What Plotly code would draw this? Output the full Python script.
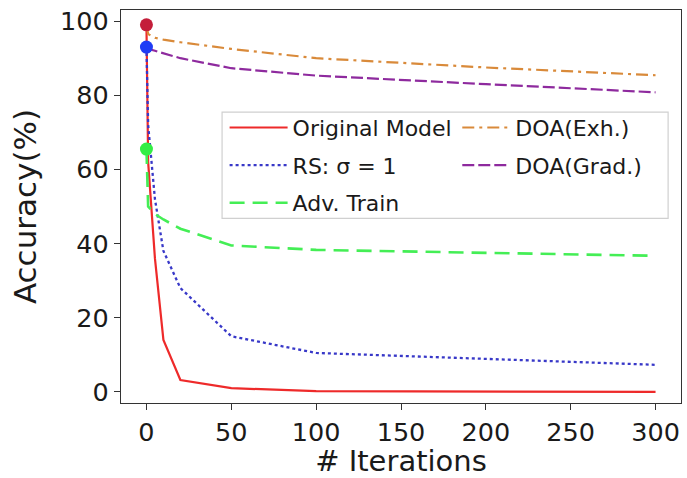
import plotly.graph_objects as go

iters = [0, 1, 5, 10, 20, 50, 100, 200, 300]
original = [99, 62, 36, 14, 3.2, 1.0, 0.2, 0.0, 0.0]
rs = [93, 72, 52, 38, 28, 15, 10.5, 9.0, 7.3]
adv = [65.5, 50, 48, 46.5, 44, 39.5, 38.3, 37.5, 36.7]
doa_exh = [99, 96.5, 95.5, 95, 94.3, 92.5, 90, 87.5, 85.4]
doa_grad = [93, 92.5, 92, 91.3, 90, 87.3, 85.3, 83, 80.8]

xticks = [0, 50, 100, 150, 200, 250, 300]
yticks = [0, 20, 40, 60, 80, 100]

FONT = "DejaVu Sans"
fig = go.Figure()

fig.add_trace(go.Scatter(x=iters, y=original, mode="lines", name="Original Model",
                         line=dict(color="#ee2a2a", width=2.2), legend="legend", legendgroup="a"))
fig.add_trace(go.Scatter(x=iters, y=rs, mode="lines", name="RS: \u03c3 = 1",
                         line=dict(color="#3838c8", width=2.3, dash="dot"), legend="legend", legendgroup="b"))
fig.add_trace(go.Scatter(x=iters, y=adv, mode="lines", name="Adv. Train",
                         line=dict(color="#44ee55", width=2.6, dash="15px,8px"), legend="legend", legendgroup="c"))
fig.add_trace(go.Scatter(x=iters, y=doa_exh, mode="lines", name="DOA(Exh.)",
                         line=dict(color="#d98a3a", width=2.2, dash="12px,5px,3px,5px"), legend="legend2", legendgroup="d"))
fig.add_trace(go.Scatter(x=iters, y=doa_grad, mode="lines", name="DOA(Grad.)",
                         line=dict(color="#8e2a9e", width=2.2, dash="12px,4px"), legend="legend2", legendgroup="e"))

# starting-point markers
fig.add_trace(go.Scatter(x=[iters[0]], y=[original[0]], mode="markers", showlegend=False,
                         marker=dict(color="#c41e3a", size=13)))
fig.add_trace(go.Scatter(x=[iters[0]], y=[rs[0]], mode="markers", showlegend=False,
                         marker=dict(color="#1f3cf5", size=13)))
fig.add_trace(go.Scatter(x=[iters[0]], y=[adv[0]], mode="markers", showlegend=False,
                         marker=dict(color="#33ee44", size=13)))

axis_common = dict(showgrid=False, zeroline=False, showline=True, mirror=True,
                   linecolor="#333333", linewidth=1.3, ticks="outside", ticklen=6,
                   tickcolor="#333333", tickwidth=1.2, automargin=False,
                   tickfont=dict(family=FONT, size=25.5, color="#1a1a1a"))

fig.update_layout(
    width=687, height=478,
    margin=dict(l=121, r=6, t=10, b=75),
    paper_bgcolor="white", plot_bgcolor="white",
    font=dict(family=FONT, color="#1a1a1a"),
    xaxis=dict(range=[-15, 315], tickvals=xticks,
               title=dict(text="# Iterations", font=dict(family=FONT, size=29), standoff=6),
               **axis_common),
    yaxis=dict(range=[-3, 103], tickvals=yticks,
               title=dict(text="Accuracy(%)", font=dict(family=FONT, size=31), standoff=14),
               **axis_common),
    legend=dict(x=0.185, y=0.754, xanchor="left", yanchor="top",
                bgcolor="rgba(0,0,0,0)", borderwidth=0,
                font=dict(family=FONT, size=22, color="#1a1a1a"),
                tracegroupgap=6, itemwidth=58),
    legend2=dict(x=0.6005, y=0.754, xanchor="left", yanchor="top",
                 bgcolor="rgba(0,0,0,0)", borderwidth=0,
                 font=dict(family=FONT, size=22, color="#1a1a1a"),
                 tracegroupgap=6, itemwidth=48),
    shapes=[dict(type="rect", xref="paper", yref="paper",
                 x0=0.1805, x1=0.977, y0=0.470, y1=0.740,
                 line=dict(color="#d0d0d0", width=1.2),
                 fillcolor="rgba(255,255,255,0.8)", layer="below")],
)

fig.write_html("out.html", config={"displayModeBar": False},
               post_script="document.body.style.margin='0';document.body.style.overflow='hidden';")
